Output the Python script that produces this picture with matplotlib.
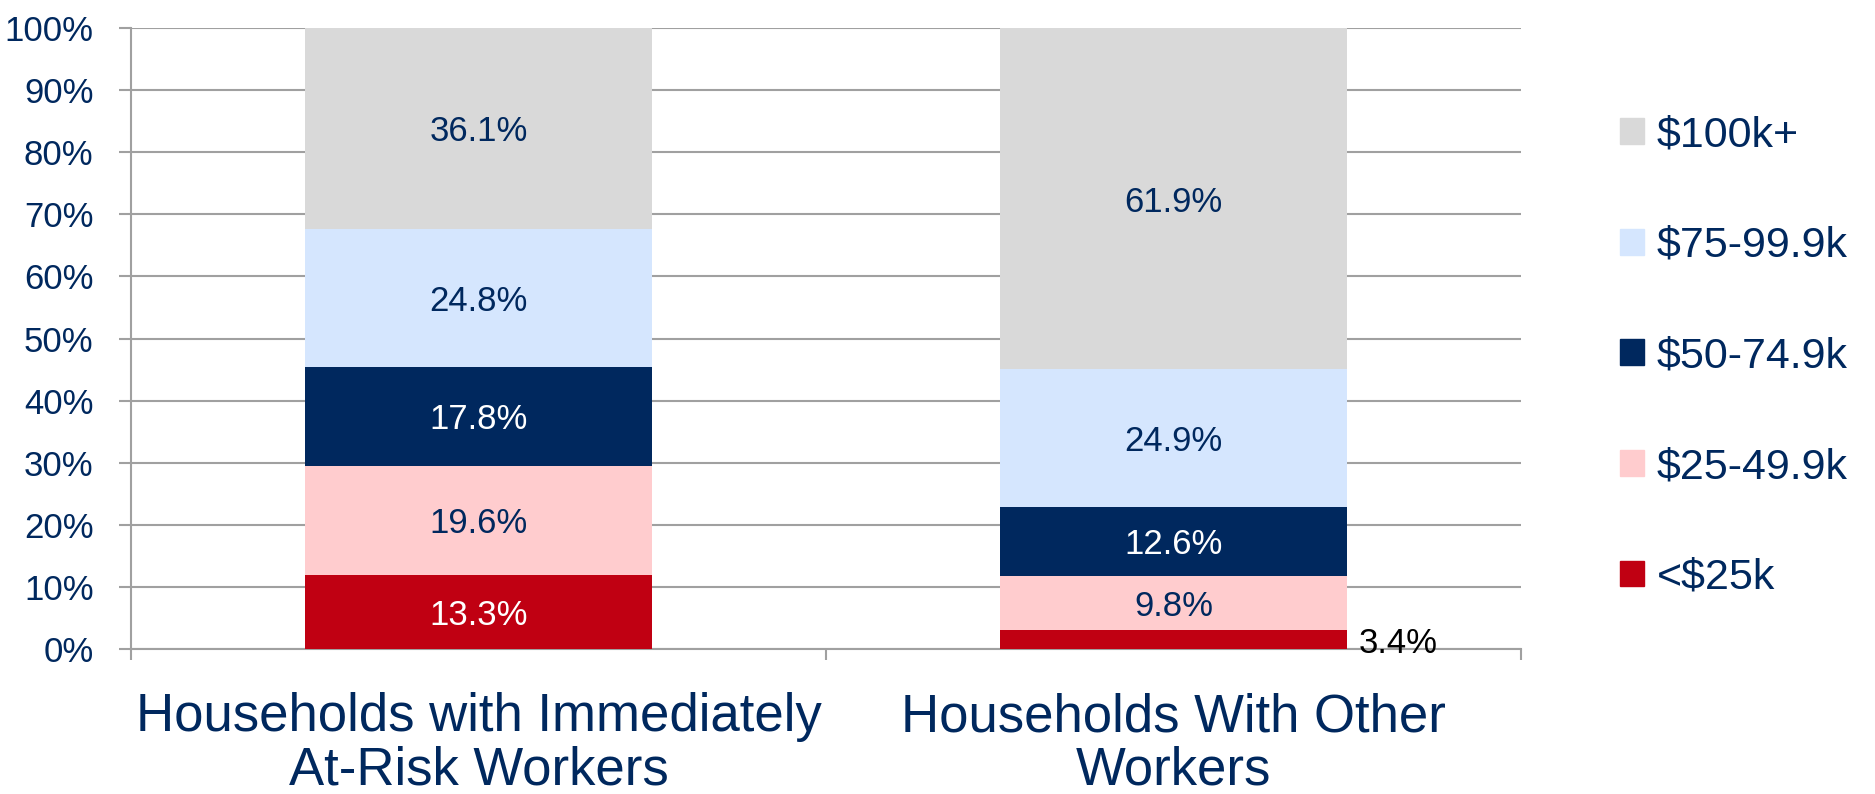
import matplotlib.pyplot as plt
from matplotlib.patches import Patch
import numpy as np

categories = ["Households with Immediately\nAt-Risk Workers", "Households With Other\nWorkers"]
series = ["<$25k", "$25-49.9k", "$50-74.9k", "$75-99.9k", "$100k+"]
values = [
    [13.3, 3.4],
    [19.6, 9.8],
    [17.8, 12.6],
    [24.8, 24.9],
    [36.1, 61.9],
]
colors = ["#C00012", "#FFCCCE", "#00285E", "#D5E6FE", "#D9D9D9"]
label_colors = ["white", "#00285E", "white", "#00285E", "#00285E"]

navy = "#00285E"
grid_gray = "#A0A0A0"
wide = ["Liberation Sans", "DejaVu Sans"]

vals = np.array(values)
shares = vals / vals.sum(axis=0) * 100  # 100% stacked

fig = plt.figure(figsize=(18.75, 7.94), dpi=100)
ax = fig.add_axes([0.0699, 0.1826, 0.7413, 0.7821])

x = np.arange(len(categories))
bottom = np.zeros(len(categories))
for i, name in enumerate(series):
    ax.bar(x, shares[i], 0.5, bottom=bottom, color=colors[i], label=name, zorder=3)
    for j in range(len(categories)):
        txt = "%.1f%%" % vals[i, j]
        mid = bottom[j] + shares[i, j] / 2
        if i == 0 and j == 1:
            # thin slice: label goes outside, to the right of the bar
            ax.annotate(txt, (x[j] + 0.25, mid), xytext=(8, -3), textcoords="offset points",
                        ha="left", va="center", fontsize=25, color="black", family=wide)
        else:
            ax.text(x[j], mid, txt, ha="center", va="center_baseline", fontsize=25,
                    color=label_colors[i], family=wide, zorder=4)
    bottom += shares[i]

ax.set_xlim(-0.5, 1.5)
ax.set_ylim(0, 100)
ax.set_yticks(np.arange(0, 101, 10))
ax.set_yticklabels(["%d%%" % v for v in range(0, 101, 10)], family=wide, fontsize=25, color=navy)
ax.yaxis.grid(True, color=grid_gray, linewidth=1.5, zorder=0)

ax.set_xticks(x)
ax.set_xticklabels(categories, fontsize=38, color=navy, family=wide, linespacing=1.09)
ax.set_xticks([-0.5, 0.5, 1.5], minor=True)
ax.tick_params(axis="x", which="major", length=0, pad=31)
ax.tick_params(axis="x", which="minor", length=8, width=1.5, color=grid_gray)
ax.tick_params(axis="y", length=9, width=1.5, color=grid_gray, pad=18)

for side in ["top", "right"]:
    ax.spines[side].set_visible(False)
for side in ["left", "bottom"]:
    ax.spines[side].set_color(grid_gray)
    ax.spines[side].set_linewidth(1.5)

handles = [Patch(color=colors[i], label=series[i]) for i in range(len(series))][::-1]
fig.legend(handles=handles, loc="center left", bbox_to_anchor=(0.864, 0.551), frameon=False,
           prop={"family": wide, "size": 31}, labelcolor=navy,
           handlelength=0.55, handleheight=0.55, handletextpad=0.3, labelspacing=1.64,
           borderpad=0, borderaxespad=0)

fig.savefig("out.png", dpi=100)
